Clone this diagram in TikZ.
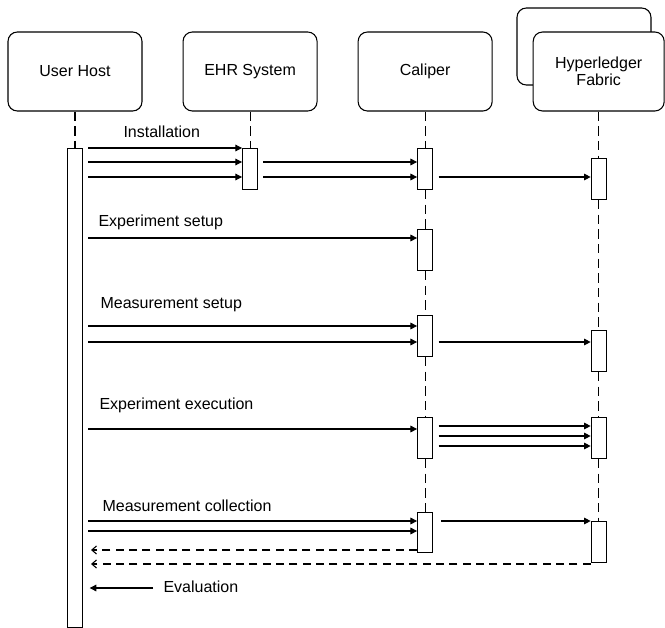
\documentclass[tikz,border=0pt]{standalone}
\usepackage{fontspec}
\setmainfont{Liberation Sans}
\usetikzlibrary{positioning}
\usetikzlibrary{arrows.meta}

\begin{document}
\begin{tikzpicture}[x=0.75pt,y=-0.75pt,
        font=\fontsize{12}{13}\selectfont,
        line width=0.8pt,
        actor/.style={draw, rounded corners=7pt, fill=white, minimum width=100.5pt,
            minimum height=59.25pt, align=center},
        bar/.style={draw, fill=white, minimum width=11.25pt, minimum height=#1*0.75pt,
            inner sep=0pt, anchor=north},
        life/.style={dash pattern=on 7pt off 4pt},
        msg/.style={-{Triangle[length=5pt,width=5pt]}, shorten <=4pt},
        ret/.style={dash pattern=on 6pt off 4pt, -{Straight Barb[length=3.5pt,width=6pt]},
            shorten >=6pt},
        lbl/.style={anchor=west, inner sep=0pt, text height=9pt, text depth=2.5pt}]
        \useasboundingbox (0,0) rectangle (665,628);

        % Participants
        \node[actor]                     (uh)  at (75,71.5) {User Host};
        \node[actor, right=30pt of uh]   (ehr) {EHR System};
        \node[actor, right=30pt of ehr]  (cal) {Caliper};
        \node[actor, minimum height=57.75pt] (hlb) at (584,46.5) {};
        \node[actor, minimum width=98.25pt, right=30pt of cal] (hl) {Hyperledger\\Fabric};

        % Activations
        \node[bar=479] (u1) at (uh |- 0,148) {};
        \node[bar=41]  (e1) at (ehr |- 0,148) {};
        \node[bar=41]  (c1) at (cal |- 0,148) {};
        \node[bar=41]  (c2) at (cal |- 0,229) {};
        \node[bar=41]  (c3) at (cal |- 0,315) {};
        \node[bar=41]  (c4) at (cal |- 0,417) {};
        \node[bar=40]  (c5) at (cal |- 0,512) {};
        \node[bar=41]  (f1) at (hl |- 0,158) {};
        \node[bar=41]  (f2) at (hl |- 0,330) {};
        \node[bar=41]  (f3) at (hl |- 0,417) {};
        \node[bar=41]  (f4) at (hl |- 0,521) {};

        % Lifelines
        \foreach \a/\b in {uh/u1, ehr/e1, cal/c1, c1/c2, c2/c3, c3/c4, c4/c5,
                           hl/f1, f1/f2, f2/f3, f3/f4}
            \draw[life] (\a) -- (\b);

        % Installation
        \node[lbl] (l1) at (123,133) {Installation};
        \draw[msg] (u1.east |- 0,148) -- (e1.west |- 0,148);
        \draw[msg] (u1.east |- 0,162) -- (e1.west |- 0,162);
        \draw[msg] (u1.east |- 0,177) -- (e1.west |- 0,177);
        \draw[msg] (e1.east |- 0,162) -- (c1.west |- 0,162);
        \draw[msg] (e1.east |- 0,177) -- (c1.west |- 0,177);
        \draw[msg] (c1.east |- 0,177) -- (f1.west |- 0,177);

        % Experiment setup
        \node[lbl] (l2) at (98,222) {Experiment setup};
        \draw[msg] (u1.east |- 0,238) -- (c2.west |- 0,238);

        % Measurement setup
        \node[lbl] (l3) at (100,304) {Measurement setup};
        \draw[msg] (u1.east |- 0,326) -- (c3.west |- 0,326);
        \draw[msg] (u1.east |- 0,342) -- (c3.west |- 0,342);
        \draw[msg] (c3.east |- 0,342) -- (f2.west |- 0,342);

        % Experiment execution
        \node[lbl] (l4) at (99,405) {Experiment execution};
        \draw[msg] (u1.east |- 0,429) -- (c4.west |- 0,429);
        \draw[msg] (c4.east |- 0,426) -- (f3.west |- 0,426);
        \draw[msg] (c4.east |- 0,436) -- (f3.west |- 0,436);
        \draw[msg] (c4.east |- 0,446) -- (f3.west |- 0,446);

        % Measurement collection
        \node[lbl] (l5) at (102,507) {Measurement collection};
        \draw[msg] (u1.east |- 0,521) -- (c5.west |- 0,521);
        \draw[msg] (u1.east |- 0,531) -- (c5.west |- 0,531);
        \draw[msg, shorten <=6pt] (c5.east |- 0,521) -- (f4.west |- 0,521);
        \draw[ret] (c5.west |- 0,550) -- (u1.east |- 0,550);
        \draw[ret] (f4.west |- 0,564) -- (u1.east |- 0,564);

        % Evaluation
        \node[lbl] (ev) at (163,588) {Evaluation};
        \draw[msg, shorten <=7.5pt, shorten >=5pt] (ev.west) -- (u1.east |- ev.west);
\end{tikzpicture}
\end{document}
